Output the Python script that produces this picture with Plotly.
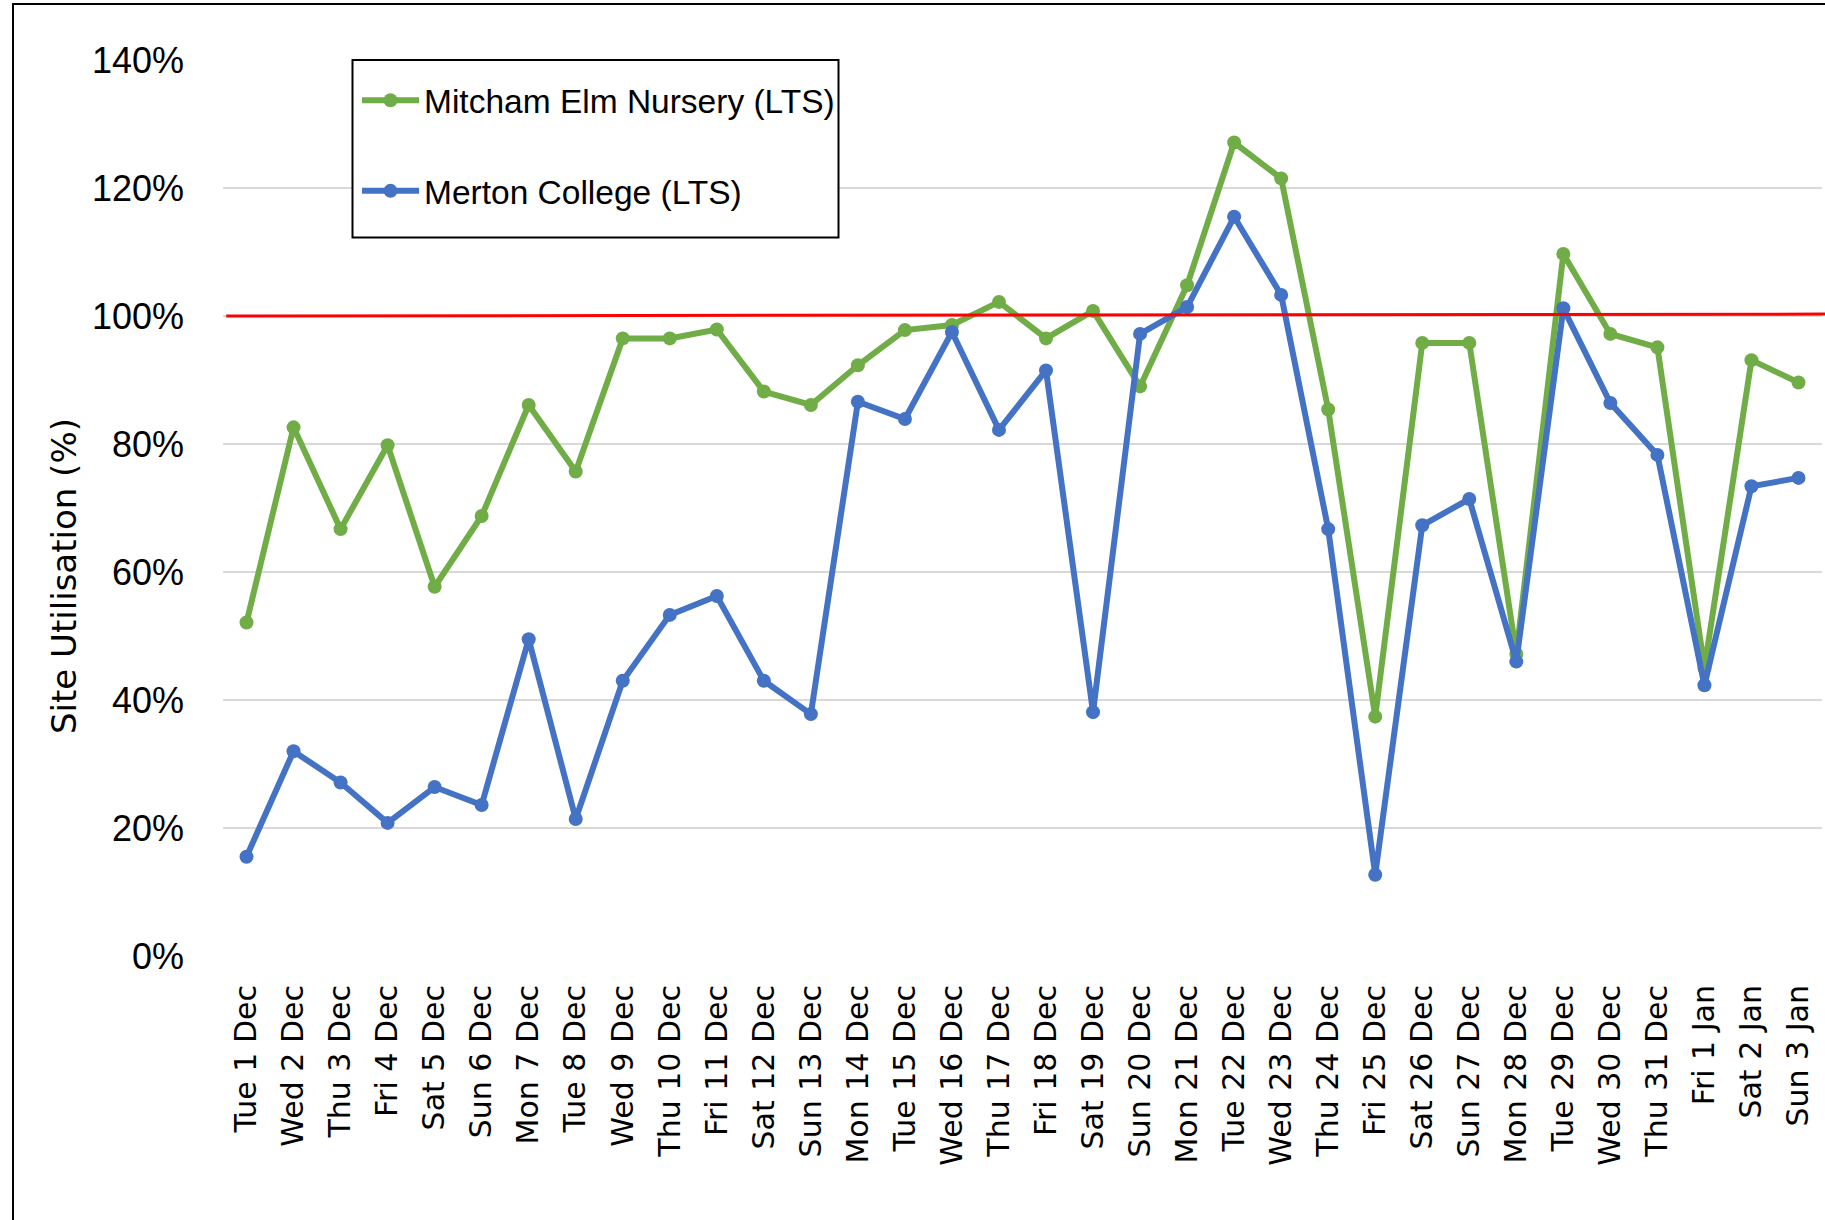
import plotly.graph_objects as go

# ---- data ----
dates = ["Tue 1 Dec", "Wed 2 Dec", "Thu 3 Dec", "Fri 4 Dec", "Sat 5 Dec", "Sun 6 Dec",
         "Mon 7 Dec", "Tue 8 Dec", "Wed 9 Dec", "Thu 10 Dec", "Fri 11 Dec", "Sat 12 Dec",
         "Sun 13 Dec", "Mon 14 Dec", "Tue 15 Dec", "Wed 16 Dec", "Thu 17 Dec", "Fri 18 Dec",
         "Sat 19 Dec", "Sun 20 Dec", "Mon 21 Dec", "Tue 22 Dec", "Wed 23 Dec", "Thu 24 Dec",
         "Fri 25 Dec", "Sat 26 Dec", "Sun 27 Dec", "Mon 28 Dec", "Tue 29 Dec", "Wed 30 Dec",
         "Thu 31 Dec", "Fri 1 Jan", "Sat 2 Jan", "Sun 3 Jan"]

mitcham = [52.1, 82.6, 66.7, 79.8, 57.7, 68.75, 86.1, 75.7, 96.5, 96.5, 97.9, 88.2,
           86.1, 92.3, 97.8, 98.6, 102.2, 96.5, 100.8, 89.0, 104.8, 127.1, 121.5, 85.4,
           37.4, 95.8, 95.8, 47.2, 109.7, 97.2, 95.1, 45.0, 93.1, 89.6]

merton = [15.5, 32.0, 27.1, 20.8, 26.4, 23.6, 49.5, 21.4, 43.0, 53.3, 56.25, 43.0,
          37.8, 86.6, 83.9, 97.5, 82.2, 91.5, 38.1, 97.2, 101.4, 115.5, 103.3, 66.7,
          12.7, 67.3, 71.4, 46.0, 101.2, 86.4, 78.3, 42.3, 73.4, 74.7]

target = [100.0, 100.3]          # capacity line (left end, right end)
y_ticks = [0, 20, 40, 60, 80, 100, 120, 140]
y_tick_labels = ["0%", "20%", "40%", "60%", "80%", "100%", "120%", "140%"]

series_names = ["Mitcham Elm Nursery (LTS)", "Merton College (LTS)"]
GREEN = "#70AD47"
BLUE = "#4472C4"

# ---- layout geometry (pixels) ----
W, H = 1825, 1220
L, R, T, B = 223, 3, 60, 264
PW, PH = W - L - R, H - T - B


def px_x(px):
    return (px - L) / PW


def px_y(py):
    return (H - B - py) / PH


fig = go.Figure()

for name, vals, col, grp in [(series_names[0], mitcham, GREEN, "g1"),
                             (series_names[1], merton, BLUE, "g2")]:
    fig.add_trace(go.Scatter(
        x=dates, y=vals, name=name, mode="lines+markers", legendgroup=grp,
        line=dict(color=col, width=6),
        marker=dict(color=col, size=14),
    ))

fig.update_layout(
    width=W, height=H,
    margin=dict(l=L, r=R, t=T, b=B, pad=0),
    paper_bgcolor="white", plot_bgcolor="white",
    showlegend=True,
    legend=dict(
        x=px_x(357), y=px_y(72), xanchor="left", yanchor="top",
        bgcolor="rgba(0,0,0,0)", borderwidth=0,
        font=dict(family="Liberation Sans", size=33.5, color="black"),
        itemwidth=57, tracegroupgap=44,
    ),
    xaxis=dict(
        type="category", range=[-0.5, len(dates) - 0.5],
        tickmode="array", tickvals=dates, ticktext=dates,
        tickangle=-90, showgrid=False, zeroline=False, showline=False,
        ticks="", ticklabelstandoff=22,
        tickfont=dict(family="DejaVu Sans", size=30, color="black"),
    ),
    yaxis=dict(
        range=[0, 140], tickmode="array", tickvals=y_ticks, ticktext=y_tick_labels,
        showgrid=True, gridcolor="#D9D9D9", gridwidth=1.5,
        zeroline=False, showline=False, ticks="", ticklabelstandoff=38,
        tickfont=dict(family="Liberation Sans", size=36, color="black"),
    ),
    annotations=[dict(
        text="Site Utilisation (%)", xref="paper", yref="paper",
        x=px_x(64), y=px_y(576), xanchor="center", yanchor="middle",
        textangle=-90, showarrow=False,
        font=dict(family="DejaVu Sans", size=34, color="black"),
    )],
    shapes=[
        # capacity line
        dict(type="line", xref="paper", yref="y", x0=0.002, x1=1.002,
             y0=target[0], y1=target[1], line=dict(color="#FF0000", width=3),
             layer="above"),
        # legend box
        dict(type="rect", xref="paper", yref="paper",
             x0=px_x(352.5), x1=px_x(838.5), y0=px_y(237.5), y1=px_y(60),
             line=dict(color="black", width=2), fillcolor="white", layer="above"),
        # outer chart frame
        dict(type="rect", xref="paper", yref="paper",
             x0=px_x(13), x1=px_x(1840), y0=px_y(1240), y1=px_y(4),
             line=dict(color="black", width=2), fillcolor="rgba(0,0,0,0)",
             layer="above"),
    ],
)

fig.write_html("out.html",
               config={"displayModeBar": False},
               post_script="document.body.style.margin='0px';document.body.style.overflow='hidden';")
